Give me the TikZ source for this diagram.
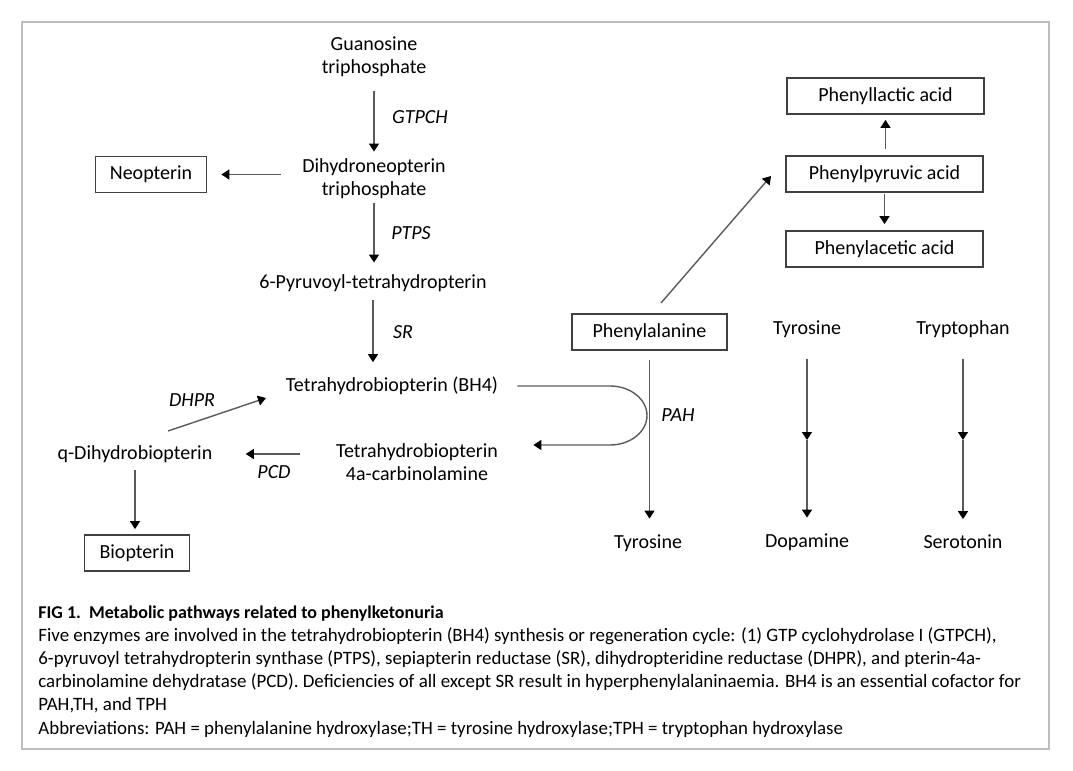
\documentclass[tikz,border=0pt]{standalone}
\usepackage{fontspec}
\setmainfont{Carlito}
\usetikzlibrary{arrows.meta,positioning}

\definecolor{linegray}{HTML}{5A5A5A}
\definecolor{framegray}{HTML}{BDBDBD}

\tikzset{
  chem/.style={align=center,inner sep=1pt,font=\fontsize{10}{11.5}\selectfont},
  chembox/.style={chem,draw=black!75,line width=0.9pt,minimum height=18pt},
  enz/.style={inner sep=0pt,font=\fontsize{10}{11.5}\selectfont\itshape},
  flow/.style={draw=linegray,line width=0.7pt,-{Triangle[length=4pt,width=5pt,color=black]}},
  capline/.style={anchor=base west,inner sep=0pt,font=\fontsize{9.45}{10}\selectfont},
}

\begin{document}
\begin{tikzpicture}[x=0.5pt,y=-0.5pt]
\useasboundingbox (0,0) rectangle (1073,771);
\draw[framegray,line width=0.6pt] (22,22) rectangle (1049,749);

% BH4 synthesis and regeneration
\node[chem] (gtp) at (374,56.5) {Guanosine\\triphosphate};
\node[chem] (dhn) at (374,178.5) {Dihydroneopterin\\triphosphate};
\node[chembox,minimum width=55.5pt] (neo) at (151,174.5) {Neopterin};
\node[chem] (pyr) at (373,283) {6-Pyruvoyl-tetrahydropterin};
\node[chem] (bh4) at (392,386) {Tetrahydrobiopterin (BH4)};
\node[chem] (qdh) at (135,454) {q-Dihydrobiopterin};
\node[chem] (carb) at (417,462.5) {Tetrahydrobiopterin\\4a-carbinolamine};
\node[chembox,minimum width=52.5pt] (bio) at (137,553) {Biopterin};

\node[enz] (lgtpch) at (420,117) {GTPCH};
\node[enz] (lptps) at (411,233) {PTPS};
\node[enz] (lsr) at (403,332) {SR};
\node[enz] (ldhpr) at (192,400) {DHPR};
\node[enz] (lpcd) at (274,472) {PCD};

\draw[flow,shorten <=6.25pt,shorten >=2.25pt] (gtp.south) -- (gtp.south |- dhn.north);
\draw[flow,shorten <=9.5pt,shorten >=7pt] (dhn.west |- neo.east) -- (neo.east);
\draw[flow,shorten <=1.25pt,shorten >=4.75pt] (dhn.south) -- (dhn.south |- pyr.north);
\draw[flow,shorten <=3.25pt,shorten >=6.25pt] (pyr.south) -- (pyr.south |- bh4.north);
\coordinate (dhprtail) at (168,431);
\coordinate (dhprhead) at (266,398);
\draw[flow] (dhprtail) -- (dhprhead);
\draw[flow,shorten <=17pt,shorten >=15.5pt] (carb.west |- qdh.east) -- (qdh.east);
\draw[flow,shorten <=2.75pt,shorten >=2.5pt] (qdh.south) -- (qdh.south |- bio.north);

% phenylalanine and the other aromatic amino acids
\node[chembox,minimum width=77.5pt] (phe) at (649.5,332) {Phenylalanine};
\node[chembox,minimum width=98.5pt] (pla) at (885.5,96) {Phenyllactic acid};
\node[chembox,minimum width=98.5pt] (ppa) at (884.5,174) {Phenylpyruvic acid};
\node[chembox,minimum width=98.5pt] (paa) at (884.5,249) {Phenylacetic acid};
\node[chem] (tyr) at (807,329) {Tyrosine};
\node[chem] (trp) at (963,329) {Tryptophan};
\node[chem] (tyrb) at (648,543) {Tyrosine};
\node[chem] (dop) at (807,542) {Dopamine};
\node[chem] (ser) at (963,542) {Serotonin};
\node[enz] (lpah) at (678,415) {PAH};

\coordinate (diagtail) at (661,303);
\coordinate (diaghead) at (771,176);
\draw[flow] (diagtail) -- (diaghead);
\draw[flow,shorten <=3pt,shorten >=2.5pt] (ppa.north -| pla.south) -- (pla.south);
\draw[flow,shorten <=0.5pt,shorten >=3pt] (ppa.south) -- (paa.north);
\draw[flow,shorten <=4.5pt,shorten >=6.75pt] (phe.south) -- (phe.south |- tyrb.north);
\coordinate (tyrmid) at (807,440);
\coordinate (trpmid) at (963,440);
\draw[flow,shorten <=9.75pt] (tyr.south) -- (tyrmid);
\draw[flow,shorten >=6.75pt] (tyrmid) -- (dop.north);
\draw[flow,shorten <=9.75pt] (trp.south) -- (trpmid);
\draw[flow,shorten >=6.75pt] (trpmid) -- (ser.north);

% BH4 cofactor loop through PAH
\draw[flow,shorten <=8.5pt,shorten >=16.5pt] (bh4.east) -- (610,386)
  arc[start angle=90,end angle=-90,x radius=18.5pt,y radius=14.75pt] -- (carb.east |- 0,445);

% caption
\node[capline,font=\fontsize{9}{10}\selectfont\bfseries] (captitle) at (38,618) {FIG 1.\ \ Metabolic pathways related to phenylketonuria};
\node[capline] (capa) at (38,641.2) {Five enzymes are involved in the tetrahydrobiopterin (BH4) synthesis or regeneration cycle: (1) GTP cyclohydrolase I (GTPCH),};
\node[capline] (capb) at (38,664.4) {6-pyruvoyl tetrahydropterin synthase (PTPS), sepiapterin reductase (SR), dihydropteridine reductase (DHPR), and pterin-4a-};
\node[capline] (capc) at (38,687.6) {carbinolamine dehydratase (PCD). Deficiencies of all except SR result in hyperphenylalaninaemia. BH4 is an essential cofactor for};
\node[capline] (capd) at (38,710.8) {PAH,TH, and TPH};
\node[capline] (cape) at (38,734) {Abbreviations: PAH = phenylalanine hydroxylase;TH = tyrosine hydroxylase;TPH = tryptophan hydroxylase};
\end{tikzpicture}
\end{document}
